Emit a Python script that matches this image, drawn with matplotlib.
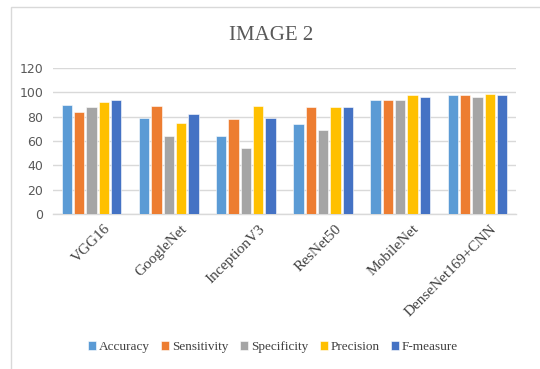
import matplotlib
matplotlib.use("Agg")
import matplotlib.pyplot as plt
import matplotlib.transforms as mtransforms
import numpy as np
from matplotlib.patches import Rectangle

models = ["VGG16", "GoogleNet", "InceptionV3", "ResNet50", "MobileNet", "DenseNet169+CNN"]
metrics = ["Accuracy", "Sensitivity", "Specificity", "Precision", "F-measure"]
accuracy = [90, 79, 64, 74, 93.5, 97.6]
sensitivity = [84, 89, 78, 88, 93.5, 97.6]
specificity = [88, 64.5, 54, 69, 94, 96.5]
precision = [92, 75, 89, 88, 97.6, 98.4]
f_measure = [94, 82, 79, 88, 96.5, 97.6]
yticks = [0, 20, 40, 60, 80, 100, 120]

series = [accuracy, sensitivity, specificity, precision, f_measure]
colors = ["#5B9BD5", "#ED7D31", "#A5A5A5", "#FFC000", "#4472C4"]

fig = plt.figure(figsize=(5.4, 3.69), dpi=100)
fig.patch.set_facecolor("white")

# light frame around the chart area
fig.patches.append(Rectangle((11 / 540, -0.05), 1.2, 1 - 7 / 369 + 0.05,
                             transform=fig.transFigure, fill=False,
                             edgecolor="#d9d9d9", linewidth=1.0))

ax = fig.add_axes([53 / 540, 1 - 214 / 369, (516 - 53) / 540, (214 - 68) / 369])

x = np.arange(len(models))
step = 0.16
width = 0.135
for i, (vals, col, name) in enumerate(zip(series, colors, metrics)):
    ax.bar(x + (i - 2) * step, vals, width=width, color=col, label=name,
           edgecolor="white", linewidth=0.4, zorder=3)

ax.set_xlim(-0.5, len(models) - 0.5)
ax.set_ylim(0, 120)
ax.set_yticks(yticks)
ax.set_yticklabels([str(v) for v in yticks], fontsize=9, color="#595959",
                   family="DejaVu Sans")
ax.yaxis.grid(True, color="#d9d9d9", linewidth=1.0, zorder=0)
ax.set_axisbelow(True)
ax.tick_params(axis="y", length=0, pad=7)
ax.tick_params(axis="x", length=0, pad=3)
ax.set_xticks(x)
ax.set_xticklabels(models, rotation=45, ha="right", rotation_mode="anchor",
                   fontsize=11, color="#404040", family="Liberation Serif")
shift = mtransforms.ScaledTranslation(12 / 100, -4 / 100, fig.dpi_scale_trans)
for lbl in ax.get_xticklabels():
    lbl.set_transform(lbl.get_transform() + shift)
for s in ["top", "right", "left"]:
    ax.spines[s].set_visible(False)
ax.spines["bottom"].set_color("#d9d9d9")
ax.spines["bottom"].set_linewidth(1.0)

fig.text(271 / 540, 1 - 35 / 369, "IMAGE 2", ha="center", va="center",
         fontsize=15, color="#595959", family="Liberation Serif")

handles, labels = ax.get_legend_handles_labels()
fig.legend(handles, labels, loc="center", bbox_to_anchor=(273 / 540, 1 - 347 / 369),
           ncol=5, frameon=False, prop={"family": "Liberation Serif", "size": 9.5},
           handlelength=0.6, handleheight=0.6, handletextpad=0.2, columnspacing=0.9,
           labelcolor="#404040")

fig.savefig("out.png", dpi=100, facecolor="white")
